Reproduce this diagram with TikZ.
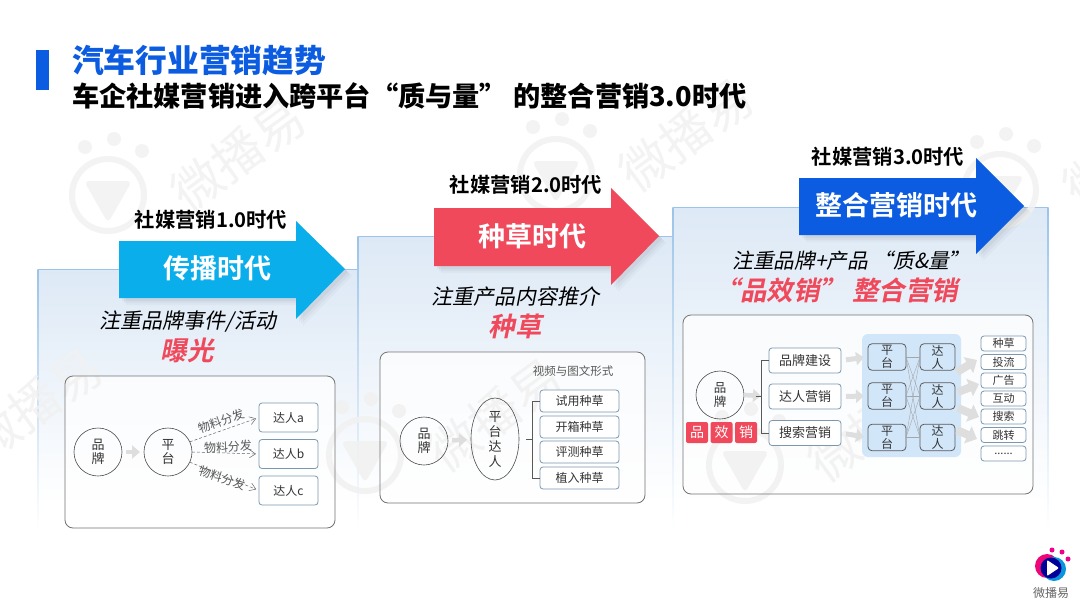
\documentclass[tikz,border=0pt]{standalone}
\usepackage{fontspec}
\setmainfont{Noto Sans CJK SC}[ItalicFont=*,ItalicFeatures={FakeSlant=0.2},BoldFont=* Bold,BoldItalicFont=* Bold,BoldItalicFeatures={FakeSlant=0.2}]
\newfontfamily\blackf{Noto Sans CJK SC Black}
\usetikzlibrary{arrows.meta,shapes.geometric}
\definecolor{cblue}{HTML}{0B5CE0}
\definecolor{ccyan}{HTML}{0AAEEB}
\definecolor{cred}{HTML}{F0495B}
\definecolor{edgeb}{HTML}{9CC3E8}
\definecolor{panelb}{HTML}{DDE9F6}
\definecolor{boxline}{HTML}{7C97AE}
\definecolor{wm}{HTML}{F1F1F1}
\definecolor{txtg}{HTML}{333333}
\definecolor{pfill}{HTML}{D2E6FA}
\newcommand{\fsz}[1]{\fontsize{#1}{#1}\selectfont}
\newcommand{\panelbox}[4]{%
  \shade[top color=panelb,bottom color=white] (#1,#3) rectangle (#2,#4-25);
  \shade[top color=edgeb,bottom color=white] (#1-0.6,#3) rectangle (#1+0.6,#4);
  \draw[edgeb,line width=1pt] (#1,#3) -- (#2,#3);}
\newcommand{\bigarrow}[9]{% x0 xh xt, y1 y2 y3 y4 ym, colour
  \foreach \d/\o in {7/.025,5/.03,3/.04}{
    \fill[black,opacity=\o] (#1+\d,#5+\d) -- (#2+\d,#5+\d) -- (#2+\d,#4+\d) -- (#3+\d,#8+\d) -- (#2+\d,#7+\d) -- (#2+\d,#6+\d) -- (#1+\d,#6+\d) -- cycle;}
  \fill[#9] (#1,#5) -- (#2,#5) -- (#2,#4) -- (#3,#8) -- (#2,#7) -- (#2,#6) -- (#1,#6) -- cycle;}
\newcommand{\watermark}[2]{%
  \begin{scope}[shift={(#1,#2)}]
    \draw[wm,line width=6pt] (0,0) circle[radius=36];
    \fill[wm,rounded corners=5pt] (-24,-14) -- (24,-14) -- (0,28) -- cycle;
    \fill[wm] (-23,-48) circle[radius=7] (6,-56) circle[radius=7] (34,-44) circle[radius=7];
    \node[rotate=36,text=wm,inner sep=0pt] (wm#1) at (130,-40) {\fsz{50}微播易};
  \end{scope}}
\tikzset{
  x=1pt,y=-1pt,
  every node/.style={inner sep=0pt,outer sep=0pt,align=center,text=txtg},
  outerbox/.style={draw=black!55,line width=0.8pt,rounded corners=8pt},
  circ/.style={draw=black!70,line width=0.6pt,circle,minimum size=48pt,font=\fsz{13}},
  rbox/.style={draw=boxline,line width=0.8pt,fill=white,rounded corners=3pt,minimum width=#1},
  rbox/.default=59pt,
  dasharr/.style={draw=black!60,line width=0.5pt,densely dashed,-{Straight Barb[length=6pt,width=8pt]},shorten >=3pt},
  blockarr/.style={draw=black!13,line width=4.5pt,-{Triangle[length=8pt,width=13pt]}},
  fatarr/.style={draw=black!13,line width=8pt,-{Triangle[length=10pt,width=18pt]}},
  mesh/.style={draw=black!35,line width=0.4pt},
  brace/.style={draw=black!65,line width=0.7pt},
  flabel/.style={text=black!65,font=\fsz{12}},
  pf/.style={draw=black!65,line width=0.8pt,fill=pfill,rounded corners=4pt,minimum height=26.5pt,font=\fsz{12}},
  redsq/.style={fill=cred,rounded corners=2pt,minimum width=22pt,minimum height=21pt,text=white,font=\fsz{14}},
  head/.style={text=black,font=\fsz{20.3}\bfseries},
  tag/.style={text=white,font=\fsz{27}\bfseries},
  slog/.style={text=black,font=\fsz{21}\itshape},
  rlog/.style={text=cred,font=\fsz{26.5}\bfseries\itshape},
}
\begin{document}
\begin{tikzpicture}
\useasboundingbox (0,0) rectangle (1080,605);
\clip (0,0) rectangle (1080,605);
\fill[white] (0,0) rectangle (1080,605);
% panels
\panelbox{38}{358}{269}{530}
\panelbox{358}{673}{236}{530}
\panelbox{673}{1048}{207}{530}
\shade[top color=edgeb,bottom color=white] (1047.4,207) rectangle (1048.6,530);
% box fills
\fill[white,opacity=.75,rounded corners=8pt] (65,376) rectangle (335,528);
\fill[white,opacity=.75,rounded corners=8pt] (380,352) rectangle (645,503);
\fill[white,opacity=.75,rounded corners=8pt] (683,315) rectangle (1033,494);
% watermarks
\begin{scope}[opacity=.85]
\watermark{108}{195}
\watermark{365}{455}
\watermark{556}{175}
\watermark{745}{465}
\watermark{1000}{190}
\watermark{-95}{445}
\end{scope}
% title
\fill[cblue] (36,50) rectangle (49,90);
\node[anchor=west,text=cblue,font=\fsz{31.8}\blackf] (t1) at (72,60) {汽车行业营销趋势};
\node[anchor=west,text=black,font=\fsz{27.2}\blackf] (t2) at (72,96) {车企社媒营销进入跨平台“质与量” 的整合营销3.0时代};
% big arrows
\bigarrow{119}{296}{345}{221}{241}{298}{319}{269}{ccyan}
\bigarrow{434}{611}{659}{188}{208}{266}{285}{236}{cred}
\bigarrow{799}{976}{1024}{158}{178}{235}{254}{206}{cblue}
\node[head] (h1) at (211,220) {社媒营销1.0时代};
\node[head] (h2) at (526,185) {社媒营销2.0时代};
\node[head] (h3) at (888,157) {社媒营销3.0时代};
\node[tag] (g1) at (217,268) {传播时代};
\node[tag] (g2) at (532,236) {种草时代};
\node[tag] (g3) at (896,205) {整合营销时代};
\node[slog] (s1) at (188,322) {注重品牌事件/活动};
\node[rlog] (r1) at (187,350) {曝光};
\node[slog] (s2) at (515,297) {注重产品内容推介};
\node[rlog] (r2) at (515,326) {种草};
\node[slog,font=\fsz{20.7}\itshape] (s3) at (851,261) {注重品牌+产品 “质\&量”};
\node[rlog] (r3) at (836,290) {“品效销” 整合营销};
% ---- box 1
\draw[outerbox] (65,376) rectangle (335,528);
\node[circ] (a1) at (98,452) {品\\[1pt]牌};
\node[circ] (a2) at (168,452) {平\\[1pt]台};
\draw[blockarr,shorten <=4pt,shorten >=4pt] (a1) -- (a2);
\foreach \n/\y in {a/417.5,b/454,c/490.5}
  \node[rbox,minimum height=29pt,font=\fsz{12}] (d\n) at (288.5,\y) {达人\n};
\draw[dasharr] (a2.25) -- (da.west);
\draw[dasharr] (a2.east) -- (db.west);
\draw[dasharr] (a2.-25) -- (dc.west);
\node[flabel,rotate=20] (f1) at (221,421) {物料分发};
\node[flabel,rotate=3] (f2) at (228,447) {物料分发};
\node[flabel,rotate=-18] (f3) at (222,478) {物料分发};
% ---- box 2
\draw[outerbox] (380,352) rectangle (645,503);
\node[circ] (b1) at (424,441) {品\\[1pt]牌};
\node[draw=black!70,line width=0.6pt,ellipse,minimum width=48pt,minimum height=82pt,font=\fsz{13}] (b2) at (495,439) {平\\[2pt]台\\[2pt]达\\[2pt]人};
\draw[blockarr,shorten <=4pt,shorten >=4pt] (b1) -- (b2);
\node[flabel,font=\fsz{11.5}] (v) at (573,371) {视频与图文形式};
\foreach \n/\y/\t in {1/401/试用种草,2/427/开箱种草,3/452/评测种草,4/478/植入种草}
  \node[rbox=79pt,minimum height=22pt,font=\fsz{12}] (e\n) at (579.5,\y) {\t};
\coordinate (bk2) at (532,439);
\draw[brace] (bk2) ++(-6,0) -- (bk2);
\draw[brace] (e1.west) -- ++(-8,0) |- (e4.west);
% ---- box 3
\draw[outerbox] (683,315) rectangle (1033,494);
\node[circ,font=\fsz{12.5}] (c0) at (720,395) {品\\[1pt]牌};
\foreach \n/\x/\t in {1/697/品,2/721.5/效,3/746/销}
  \node[redsq] (q\n) at (\x,432.5) {\t};
\coordinate (bk3) at (761,396);
\draw[blockarr,shorten <=0pt] (c0.east) -- (bk3);
\foreach \n/\y/\t in {1/360.5/品牌建设,2/396.5/达人营销,3/433/搜索营销}
  \node[rbox=72pt,minimum height=25pt,font=\fsz{13}] (k\n) at (805,\y) {\t};
\draw[brace] (k1.west) -- ++(-8,0) |- (k3.west);
\draw[brace] (bk3) ++(-5,0) -- (bk3);
\fill[pfill,rounded corners=6pt] (862,334) rectangle (961,457);
\foreach \n/\y in {1/357,2/396,3/437.5}{
  \node[pf,minimum width=38pt] (pl\n) at (887,\y) {平\\[1pt]台};
  \node[pf,minimum width=35pt] (pr\n) at (937.5,\y) {达\\[1pt]人};
}
\foreach \i in {1,2,3}\foreach \j in {1,2,3}
  \draw[mesh] (pl\i.east) -- (pr\j.west);
\foreach \n in {1,2,3}
  \draw[blockarr,line width=5pt,shorten <=5pt,shorten >=4pt] (k\n.east) -- (pl\n.west);
\foreach \n/\y/\t in {1/343.5/种草,2/362/投流,3/380.5/广告,4/398.5/互动,5/416.5/搜索,6/435/跳转}
  \node[rbox=45pt,minimum height=15pt,font=\fsz{11}] (o\n) at (1003.5,\y) {\t};
\node[rbox=45pt,minimum height=15pt,font=\fsz{11}] (o7) at (1003.5,453.5) {......};
\coordinate (x1) at (957,372); \coordinate (x2) at (958,392);
\coordinate (x3) at (958,408); \coordinate (x4) at (957,430);
\coordinate (y1) at (977,360); \coordinate (y2) at (979,384);
\coordinate (y3) at (979,417); \coordinate (y4) at (977,439);
\foreach \n in {1,2,3,4} \draw[fatarr] (x\n) -- (y\n);
% logo
\fill[magenta!80!red] (1047,566) circle[radius=12];
\fill[cyan!80!blue] (1054,569) circle[radius=12];
\fill[blue!60!black] (1051,568) circle[radius=10.5];
\fill[white,rounded corners=1pt] (1047,560) -- (1059,568) -- (1047,576) -- cycle;
\fill[magenta] (1052,550) circle[radius=2.5] (1062,552) circle[radius=2.5] (1068,559) circle[radius=2.5];
\node[text=black!60,font=\fsz{12}] (lg) at (1051,593) {微播易};
\end{tikzpicture}
\end{document}
